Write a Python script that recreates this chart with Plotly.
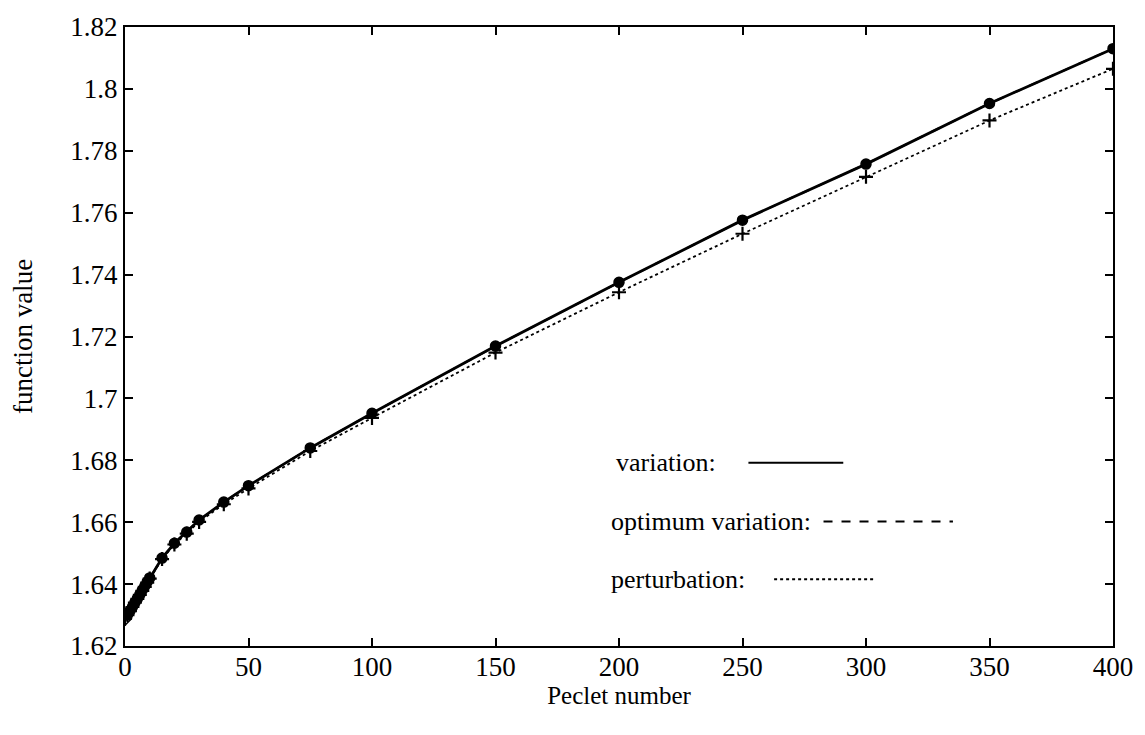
import plotly.graph_objects as go

# ---- data ----
peclet = [0, 1, 2, 3, 4, 5, 6, 7, 8, 9, 10, 15, 20, 25, 30, 40, 50, 75, 100,
          150, 200, 250, 300, 350, 400]
variation = [1.6288, 1.6300, 1.6313, 1.6326, 1.6340, 1.6353, 1.6366, 1.6380,
             1.6393, 1.6407, 1.6420, 1.6484, 1.6532, 1.6568, 1.6607, 1.6665,
             1.6718, 1.6840, 1.6952, 1.7169, 1.7375, 1.7576, 1.7757, 1.7953,
             1.8130]
optimum_variation = list(variation)
perturbation = [1.6288, 1.6300, 1.6313, 1.6326, 1.6340, 1.6352, 1.6365, 1.6378,
                1.6391, 1.6405, 1.6418, 1.6481, 1.6528, 1.6563, 1.6601, 1.6658,
                1.6709, 1.6830, 1.6937, 1.7148, 1.7343, 1.7532, 1.7716, 1.7898,
                1.8065]

x_ticks = [0, 50, 100, 150, 200, 250, 300, 350, 400]
y_ticks = [1.62, 1.64, 1.66, 1.68, 1.70, 1.72, 1.74, 1.76, 1.78, 1.80, 1.82]
y_tick_labels = ["1.62", "1.64", "1.66", "1.68", "1.7", "1.72", "1.74",
                 "1.76", "1.78", "1.8", "1.82"]

legend_labels = ["variation:", "optimum variation:", "perturbation:"]

FONT = "Liberation Serif"

fig = go.Figure()

fig.add_trace(go.Scatter(
    x=peclet, y=perturbation, mode="lines+markers", name="perturbation",
    line=dict(color="black", width=1.8, dash="dot"),
    marker=dict(symbol="cross-thin", size=10, color="black",
                line=dict(color="black", width=2.2)),
    showlegend=False))

fig.add_trace(go.Scatter(
    x=peclet, y=optimum_variation, mode="lines", name="optimum variation",
    line=dict(color="black", width=2, dash="dash"), showlegend=False))

symbols = ["diamond-open"] + ["circle"] * (len(peclet) - 1)
fig.add_trace(go.Scatter(
    x=peclet, y=variation, mode="lines+markers", name="variation",
    line=dict(color="black", width=2.8),
    marker=dict(symbol=symbols, size=10, color="black",
                line=dict(color="black", width=1.5)),
    showlegend=False))

# legend-like annotations with line samples (paper coords of plot area)
leg_y = [0.296, 0.201, 0.108]
text_x = [0.495, 0.490, 0.490]
line_x = [(0.631, 0.727), (0.707, 0.838), (0.657, 0.760)]
dashes = ["solid", "dash", "dot"]
for lab, yy, tx, (x0, x1), d in zip(legend_labels, leg_y, text_x, line_x, dashes):
    fig.add_annotation(x=tx, y=yy, xref="paper", yref="paper", text=lab,
                       showarrow=False, xanchor="left", yanchor="middle",
                       font=dict(family=FONT, size=26, color="black"))
    fig.add_shape(type="line", xref="paper", yref="paper",
                  x0=x0, x1=x1, y0=yy, y1=yy,
                  line=dict(color="black", width=2, dash=d))

axis_common = dict(
    showline=True, linecolor="black", linewidth=2, mirror="ticks",
    ticks="inside", ticklen=8, tickwidth=1.5, tickcolor="black",
    showgrid=False, zeroline=False,
    tickfont=dict(family=FONT, size=27, color="black"),
)

fig.update_xaxes(range=[0, 400], tickvals=x_ticks, ticklabelstandoff=-4,
                 title=dict(text="Peclet number", standoff=0,
                            font=dict(family=FONT, size=25, color="black")),
                 **axis_common)
fig.update_yaxes(range=[1.62, 1.82], tickvals=y_ticks, ticktext=y_tick_labels,
                 title=dict(text="function value", standoff=30,
                            font=dict(family=FONT, size=27, color="black")),
                 **axis_common)

fig.update_layout(
    width=1145, height=735,
    margin=dict(l=125, r=30, t=18, b=89),
    plot_bgcolor="white", paper_bgcolor="white",
    font=dict(family=FONT, color="black"),
)

fig.write_html("out.html")
